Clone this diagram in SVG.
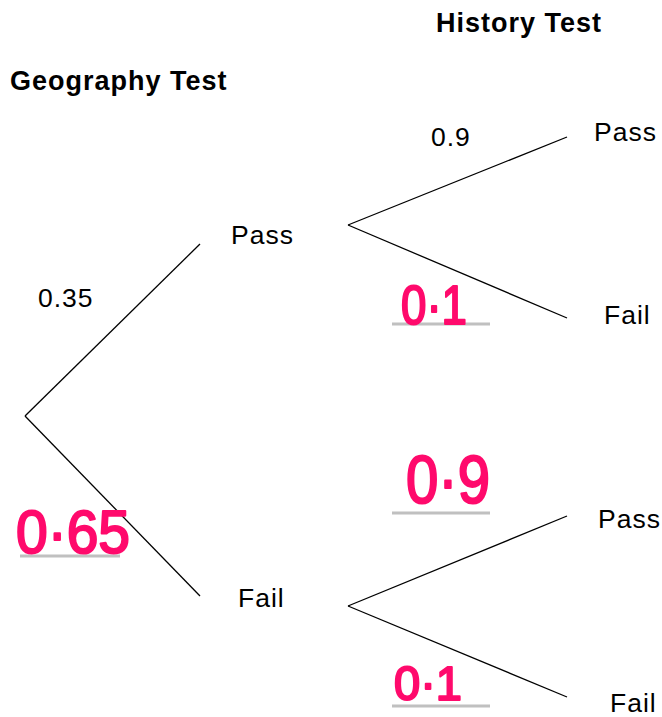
<svg xmlns="http://www.w3.org/2000/svg" width="662" height="717" viewBox="0 0 662 717">
<style>
.t{font-family:"Liberation Sans",Arial,sans-serif;font-size:26.5px;letter-spacing:1px;fill:#000}
.h{font-family:"Liberation Sans",Arial,sans-serif;font-size:27px;letter-spacing:1px;font-weight:bold;fill:#000}
.hw{font-family:"Liberation Sans",Arial,sans-serif;fill:#ff0a6c;stroke:#ff0a6c;stroke-width:2.2;stroke-linejoin:round}
.ln{stroke:#000;stroke-width:1.3;fill:none}
.ul{stroke:#c0c0c0;stroke-width:3}
</style>
<rect width="662" height="717" fill="#fff"/>
<g id="headers">
<text class="h" x="436" y="32">History Test</text>
<text class="h" x="10" y="90">Geography Test</text>
</g>
<g id="connectors">
<line class="ln" x1="25" y1="416" x2="200" y2="244"/>
<line class="ln" x1="25" y1="416" x2="200" y2="596"/>
<line class="ln" x1="348" y1="225" x2="567" y2="137"/>
<line class="ln" x1="348" y1="225" x2="567" y2="318"/>
<line class="ln" x1="348" y1="606" x2="567" y2="516"/>
<line class="ln" x1="348" y1="606" x2="567" y2="697"/>
</g>
<g id="geo-pass"><text class="t" x="231" y="244">Pass</text></g>
<g id="geo-fail"><text class="t" x="238" y="607">Fail</text></g>
<g id="hist-pass-1"><text class="t" x="594" y="141">Pass</text></g>
<g id="hist-fail-1"><text class="t" x="604" y="324">Fail</text></g>
<g id="hist-pass-2"><text class="t" x="598" y="528">Pass</text></g>
<g id="hist-fail-2"><text class="t" x="610" y="712">Fail</text></g>
<g id="labels">
<text class="t" x="38" y="307">0.35</text>
<text class="t" x="431" y="146">0.9</text>
</g>
<g id="answers">
<line class="ul" x1="392" y1="324" x2="490" y2="324"/>
<line class="ul" x1="20" y1="556" x2="120" y2="556"/>
<line class="ul" x1="392" y1="513" x2="490" y2="513"/>
<line class="ul" x1="392" y1="706" x2="490" y2="706"/>
<text class="hw" x="401" y="324" font-size="56" textLength="66" lengthAdjust="spacingAndGlyphs">0·1</text>
<text class="hw" x="16" y="553" font-size="62" textLength="114" lengthAdjust="spacingAndGlyphs">0·65</text>
<text class="hw" x="406" y="503" font-size="68" textLength="84" lengthAdjust="spacingAndGlyphs">0·9</text>
<text class="hw" x="394" y="700" font-size="49" textLength="68" lengthAdjust="spacingAndGlyphs">0·1</text>
</g>
</svg>
